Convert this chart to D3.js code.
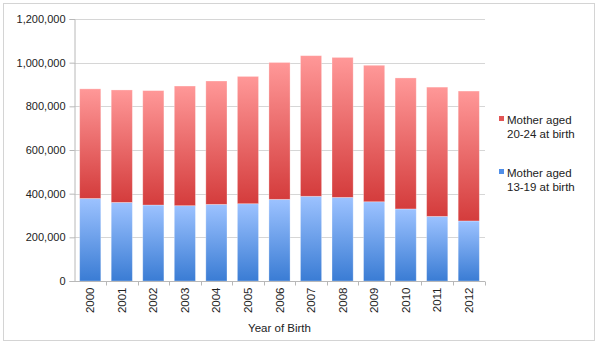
<!DOCTYPE html>
<html>
<head>
<meta charset="utf-8">
<script src="https://cdn.jsdelivr.net/npm/d3@7"></script>
<style>
  html, body { margin: 0; padding: 0; background: #fff; }
  svg { display: block; font-family: "Liberation Sans", Arial, Helvetica, sans-serif; }
</style>
</head>
<body>
<svg id="chart" width="598" height="344"></svg>
<script>
/* data */
var years = ["2000","2001","2002","2003","2004","2005","2006","2007","2008","2009","2010","2011","2012"];
var teen = [378000, 360000, 348000, 345000, 351000, 354000, 374000, 388000, 383000, 363000, 330000, 296000, 275000];
var twenties = [502000, 515000, 524000, 548000, 565000, 583000, 627000, 644000, 641000, 625000, 600000, 592000, 595000];
var yTicks = [0, 200000, 400000, 600000, 800000, 1000000, 1200000];
var seriesNames = ["Mother aged 13-19 at birth", "Mother aged 20-24 at birth"];

var svg = d3.select("#chart"),
    margin = {top: 19, right: 113, bottom: 63, left: 74},
    width = +svg.attr("width"),
    height = +svg.attr("height");

// outer frame
svg.append("rect")
  .attr("x", 3.5).attr("y", 3.5)
  .attr("width", 591).attr("height", 337)
  .attr("fill", "#fff").attr("stroke", "#d4d4d4");

// gradients
var defs = svg.append("defs");
function grad(id, top, bottom) {
  var g = defs.append("linearGradient").attr("id", id)
    .attr("x1", 0).attr("y1", 0).attr("x2", 0).attr("y2", 1);
  g.append("stop").attr("offset", "0%").attr("stop-color", top);
  g.append("stop").attr("offset", "100%").attr("stop-color", bottom);
}
grad("gBlue", "#9cc2ff", "#3a7cd4");
grad("gRed", "#ff9898", "#d43c3c");

var data = years.map(function(y, i) { return {year: y, teen: teen[i], twenties: twenties[i]}; });
var series = d3.stack().keys(["teen", "twenties"])(data);
var fills = {teen: "url(#gBlue)", twenties: "url(#gRed)"};

var x = d3.scaleBand()
  .domain(years)
  .range([margin.left, width - margin.right])
  .paddingInner(0.33)
  .paddingOuter(0.18);

var y = d3.scaleLinear()
  .domain([0, 1200000])
  .range([height - margin.bottom, margin.top]);

// gridlines
svg.append("g")
  .selectAll("line")
  .data(yTicks.slice(1))
  .enter().append("line")
    .attr("x1", margin.left).attr("x2", width - margin.right)
    .attr("y1", function(d) { return Math.round(y(d)) + 0.5; })
    .attr("y2", function(d) { return Math.round(y(d)) + 0.5; })
    .attr("stroke", "#d6d6d6");

// bars
svg.append("g")
  .selectAll("g")
  .data(series)
  .enter().append("g")
    .attr("fill", function(d) { return fills[d.key]; })
  .selectAll("rect")
  .data(function(d) { return d; })
  .enter().append("rect")
    .attr("x", function(d) { return x(d.data.year); })
    .attr("width", x.bandwidth())
    .attr("y", function(d) { return y(d[1]); })
    .attr("height", function(d) { return y(d[0]) - y(d[1]); })
    .attr("stroke", "rgba(255,255,255,0.35)")
    .attr("stroke-width", 0.8);

// y axis
var yAxis = svg.append("g")
  .attr("transform", "translate(" + (margin.left + 0.5) + ",0)")
  .call(d3.axisLeft(y).tickValues(yTicks).tickSize(5).tickPadding(4)
    .tickFormat(d3.format(",")));
yAxis.selectAll("text").attr("font-size", 11).attr("fill", "#222").attr("font-family", null);
yAxis.selectAll("line").attr("stroke", "#b8b8b8");
yAxis.select(".domain").attr("stroke", "#b8b8b8");

// x axis
var xb = svg.append("g")
  .attr("transform", "translate(0," + (y(0) + 0.5) + ")");
xb.append("line")
  .attr("x1", margin.left).attr("x2", width - margin.right)
  .attr("stroke", "#b8b8b8");
var step = x.step();
xb.selectAll(".tk")
  .data(years)
  .enter().append("line")
    .attr("class", "tk")
    .attr("x1", function(d) { return Math.round(x(d) + x.bandwidth() + (step - x.bandwidth()) / 2) + 0.5; })
    .attr("x2", function(d) { return Math.round(x(d) + x.bandwidth() + (step - x.bandwidth()) / 2) + 0.5; })
    .attr("y1", 0).attr("y2", 4)
    .attr("stroke", "#b8b8b8");
xb.selectAll("text")
  .data(years)
  .enter().append("text")
    .attr("transform", function(d) { return "translate(" + (x(d) + x.bandwidth() / 2) + ",6) rotate(-90)"; })
    .attr("text-anchor", "end")
    .attr("dy", "0.35em")
    .attr("font-size", 11.5)
    .attr("fill", "#222")
    .text(function(d) { return d; });

svg.append("text")
  .attr("x", (margin.left + width - margin.right) / 2)
  .attr("y", 332)
  .attr("text-anchor", "middle")
  .attr("font-size", 11.5)
  .attr("fill", "#222")
  .text("Year of Birth");

// legend
var legend = [
  {name: seriesNames[1], color: "#e25555", y: 124},
  {name: seriesNames[0], color: "#4f8ee8", y: 177}
];
var lg = svg.append("g").selectAll("g")
  .data(legend)
  .enter().append("g");
lg.append("rect")
  .attr("x", 499).attr("y", function(d) { return d.y - 8; })
  .attr("width", 5).attr("height", 5)
  .attr("fill", function(d) { return d.color; });
lg.append("text")
  .attr("x", 507).attr("y", function(d) { return d.y; })
  .attr("font-size", 11.5)
  .attr("fill", "#222")
  .each(function(d) {
    var parts = d.name.split(" ");
    var t = d3.select(this);
    t.append("tspan").attr("x", 507).text(parts.slice(0, 2).join(" "));
    t.append("tspan").attr("x", 507).attr("dy", 13.5).text(parts.slice(2).join(" "));
  });
</script>
</body>
</html>
